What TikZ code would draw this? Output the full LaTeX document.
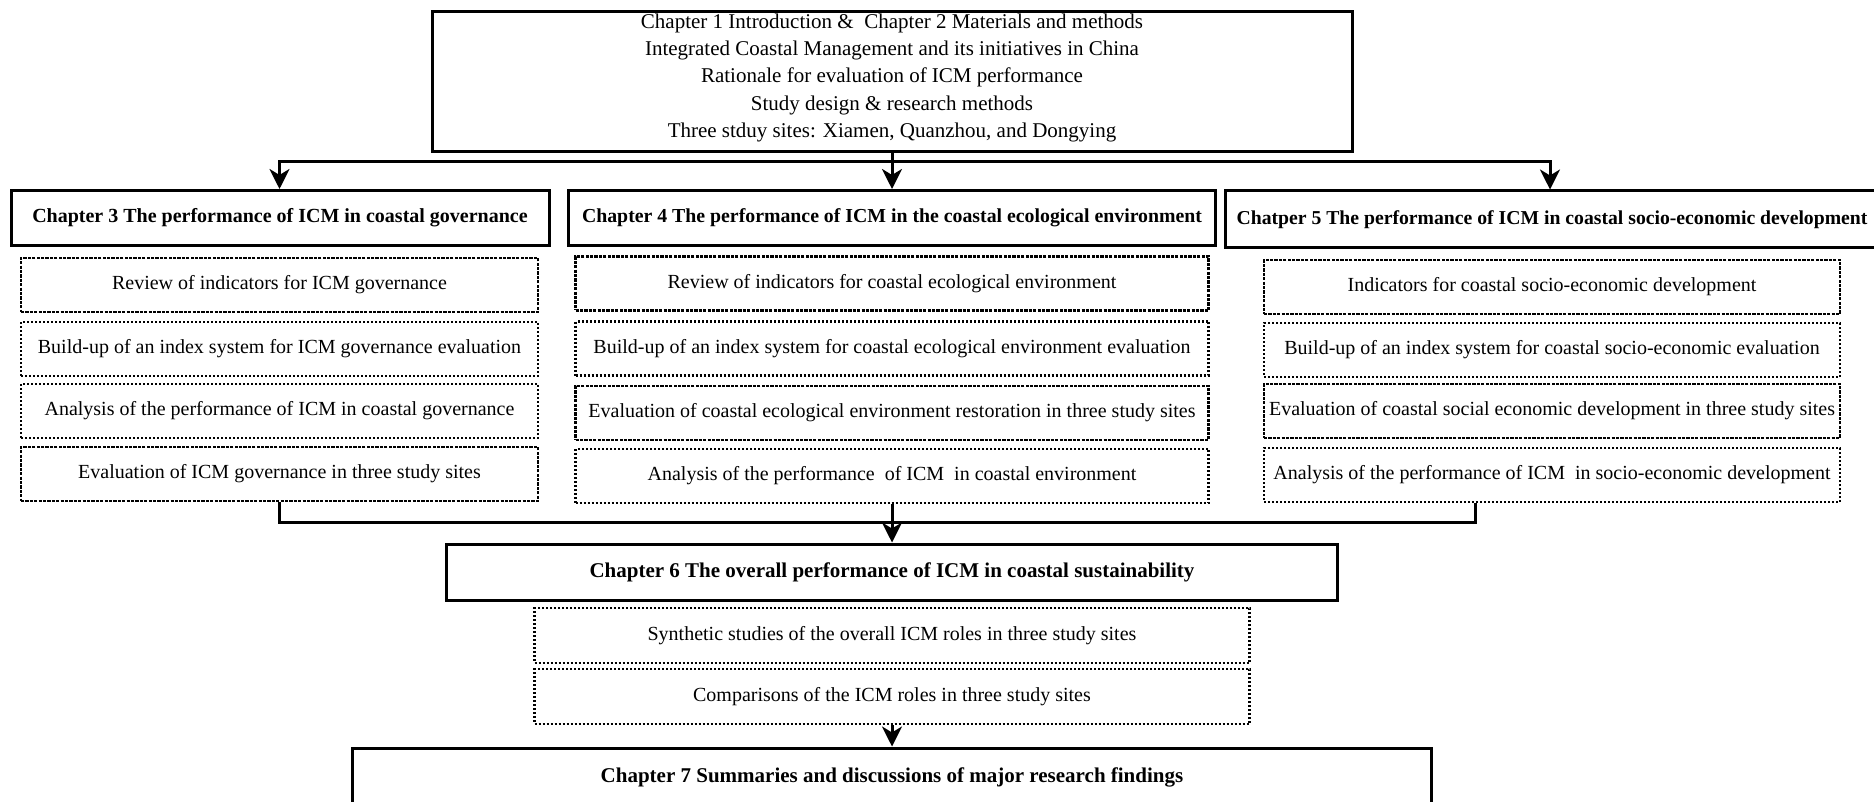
\documentclass[tikz,border=0pt]{standalone}
\usepackage{fontspec}
\setmainfont{Liberation Serif}
\usetikzlibrary{calc}
\usetikzlibrary{arrows.meta}
\newcommand*{\px}{0.5pt}
\newcommand*{\govw}{517}
\newcommand*{\ecow}{633}
\newcommand*{\socw}{576}

\begin{document}
\begin{tikzpicture}[x=\px, y=-\px,
    chapbox/.style={draw, line width=1.5pt, minimum height=55*\px, inner sep=0pt, font=\bfseries\fontsize{10}{12}\selectfont},
    subbox/.style={draw, line width=1.2pt, minimum height=54*\px, inner sep=0pt, font=\fontsize{10}{12}\selectfont},
    subdash/.style={subbox, dash pattern=on 1.6pt off 0.6pt},
    subdot/.style={subbox, dash pattern=on 1pt off 1pt},
    link/.style={line width=1.5pt},
    arrow/.style={link, -{Stealth[length=10pt, width=10pt, inset=3pt]}}]
    \useasboundingbox (0,0) rectangle (1874,802);
    % chapters 1 and 2
    \node (intro) [draw, line width=1.5pt, inner xsep=0pt, inner ysep=1pt, font=\fontsize{10.5}{13.6}\selectfont] at (892,82)
        {\begin{minipage}[t][68pt][t]{460pt}\centering
        Chapter 1 Introduction \&\ \ Chapter 2 Materials and methods\\
        Integrated Coastal Management and its initiatives in China\\
        Rationale for evaluation of ICM performance\\
        Study design \& research methods\\
        Three stduy sites: Xiamen, Quanzhou, and Dongying
        \end{minipage}};
    % chapters 3, 4, 5
    \node (gov) [chapbox, minimum width=538*\px] at (280,218) {Chapter 3 The performance of ICM in coastal governance};
    \node (eco) [chapbox, minimum width=647*\px, font=\bfseries\fontsize{9.9}{12}\selectfont] at (892,218) {Chapter 4 The performance of ICM in the coastal ecological environment};
    \node (soc) [chapbox, minimum width=660*\px, minimum height=57*\px, font=\bfseries\fontsize{9.85}{12}\selectfont] at (1555,219.5) {Chatper 5 The performance of ICM in coastal socio-economic development\hspace*{3pt}};
    \node (gov1) [subdash, minimum width=\govw*\px] at (279.5,285) {Review of indicators for ICM governance};
    \node (gov2) [subdot,  minimum width=\govw*\px] at (279.5,349) {Build-up of an index system for ICM governance evaluation};
    \node (gov3) [subdot,  minimum width=\govw*\px] at (279.5,411) {Analysis of the performance of ICM in coastal governance};
    \node (gov4) [subdash, minimum width=\govw*\px] at (279.5,474) {Evaluation of ICM governance in three study sites};
    \node (eco1) [subdash, minimum width=\ecow*\px] at (892,283.5) {Review of indicators for coastal ecological environment};
    \node (eco2) [subdot,  minimum width=\ecow*\px] at (892,348.5) {Build-up of an index system for coastal ecological environment evaluation};
    \node (eco3) [subdash, minimum width=\ecow*\px] at (892,413) {Evaluation of coastal ecological environment restoration in three study sites};
    \node (eco4) [subdot,  minimum width=\ecow*\px] at (892,476) {Analysis of the performance\ \ of ICM\ \ in coastal environment};
    \node (soc1) [subdash, minimum width=\socw*\px] at (1552,287) {Indicators for coastal socio-economic development};
    \node (soc2) [subdot,  minimum width=\socw*\px] at (1552,350) {Build-up of an index system for coastal socio-economic evaluation};
    \node (soc3) [subdash, minimum width=\socw*\px] at (1552,411) {Evaluation of coastal social economic development in three study sites};
    \node (soc4) [subdot,  minimum width=\socw*\px] at (1552,475) {Analysis of the performance of ICM\ \ in socio-economic development};
    % chapter 6
    \node (overall) [chapbox, minimum width=891*\px, minimum height=56*\px, font=\bfseries\fontsize{10.5}{12}\selectfont] at (892,572) {Chapter 6 The overall performance of ICM in coastal sustainability};
    \node (overall1) [subdot, minimum width=715*\px, minimum height=55*\px] at (892,635.5) {Synthetic studies of the overall ICM roles in three study sites};
    \node (overall2) [subdot, minimum width=715*\px, minimum height=55*\px] at (892,696.5) {Comparisons of the ICM roles in three study sites};
    % chapter 7
    \node (summary) [chapbox, minimum width=1079*\px, minimum height=58*\px, font=\bfseries\fontsize{10.5}{12}\selectfont] at (892,777) {Chapter 7 Summaries and discussions of major research findings};
    % connectors
    \coordinate (fork) at (892,162);
    \coordinate (join) at (892,522);
    \coordinate (socout) at ($(soc4.south)+(-77,0)$);
    \draw [arrow] (intro) -- (eco);
    \draw [arrow] (fork) -| (gov.north -| gov1.north);
    \draw [arrow] (fork) -| ($(soc.north)+(-5,0)$);
    \draw [link] (gov4.south) |- (join) -| (socout);
    \draw [arrow] (eco4) -- (overall);
    \draw [arrow] (overall2) -- (summary);
\end{tikzpicture}
\end{document}
